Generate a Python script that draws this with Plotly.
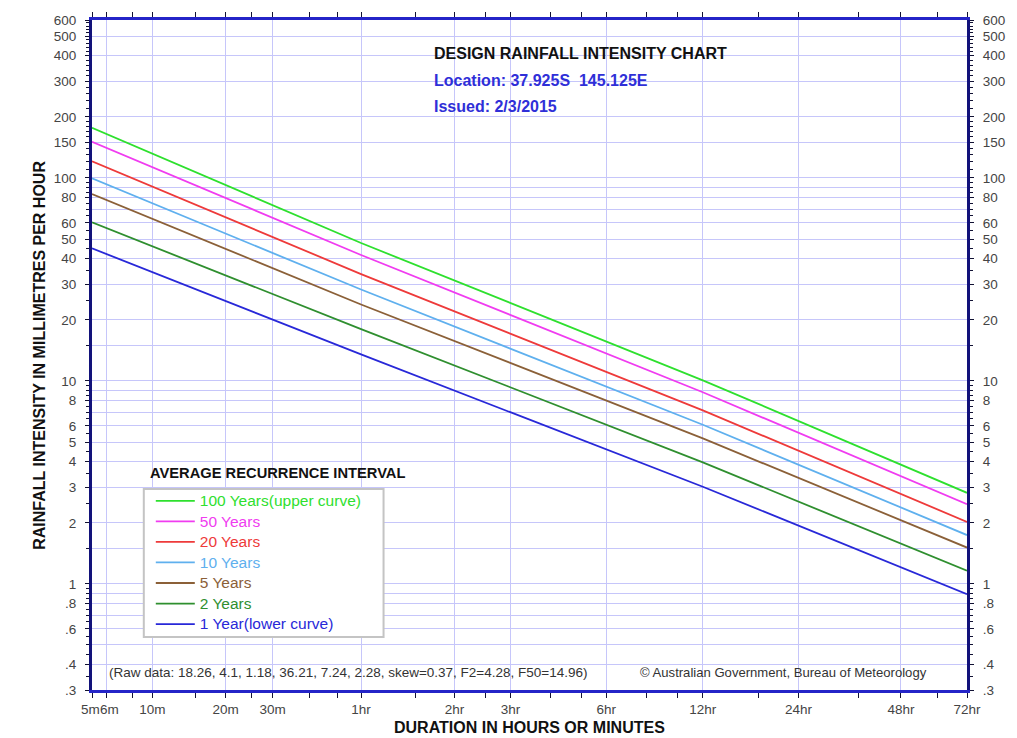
import numpy as np
import plotly.graph_objects as go

# ---------------- data ----------------
duration_labels = ["5m", "6m", "10m", "20m", "30m", "1hr", "2hr", "3hr", "6hr", "12hr", "24hr", "48hr", "72hr"]
duration_minutes = [5, 6, 10, 20, 30, 60, 120, 180, 360, 720, 1440, 2880, 4320]
minor_minutes = [8, 15, 25, 40, 50, 90, 150, 240, 300, 480, 600, 1080, 2160, 3600]

series_minutes = [5, 60, 720, 4320]

ari_names = ["100 Years(upper curve)", "50 Years", "20 Years", "10 Years", "5 Years", "2 Years", "1 Year(lower curve)"]
i_100yr = [176.6, 47.8, 10.07, 2.81]
i_50yr = [150.7, 41.7, 8.79, 2.47]
i_20yr = [120.7, 33.6, 7.16, 2.02]
i_10yr = [99.5, 28.2, 6.08, 1.74]
i_5yr = [83.3, 23.8, 5.21, 1.51]
i_2yr = [60.4, 18.0, 3.97, 1.16]
i_1yr = [45.0, 13.5, 3.01, 0.89]
series_values = [i_100yr, i_50yr, i_20yr, i_10yr, i_5yr, i_2yr, i_1yr]

y_labels = {0.3: ".3", 0.4: ".4", 0.6: ".6", 0.8: ".8", 1: "1", 2: "2", 3: "3", 4: "4", 5: "5", 6: "6", 8: "8",
            10: "10", 20: "20", 30: "30", 40: "40", 50: "50", 60: "60", 80: "80", 100: "100", 150: "150",
            200: "200", 300: "300", 400: "400", 500: "500", 600: "600"}
y_grid_only = [0.5, 0.7, 0.9, 1.5, 7, 9, 15, 70, 90]

raw_text = "(Raw data: 18.26, 4.1, 1.18, 36.21, 7.24, 2.28, skew=0.37, F2=4.28, F50=14.96)"

# ---------------- styles / scale ----------------
colors = ["#2ee02e", "#f03cf0", "#ee3a3a", "#5fb0ee", "#8b6038", "#2f8f2f", "#2828d8"]
# relative position of each labelled duration along the (non-uniform) duration axis
axis_scale = [0.0, 0.0162, 0.0691, 0.1528, 0.2064, 0.3075, 0.4144, 0.4784, 0.5876, 0.6981, 0.8075, 0.9245, 1.0]


def xpos(minutes):
    return np.interp(np.log(np.asarray(minutes, float)), np.log(duration_minutes), axis_scale)


FONT = "Liberation Sans, Arial, sans-serif"
GRID = "#c6c6fa"
AXBLUE = "#2424c8"
AXNAVY = "#12127a"
TICKFONT = dict(family=FONT, size=13.5, color="#444444")
# the two crowded first labels are drawn beside their ticks instead of centred on them
crowded = {"5m": "right", "6m": "left"}

fig = go.Figure()
for name, vals, col in zip(ari_names, series_values, colors):
    fig.add_trace(go.Scatter(
        x=xpos(series_minutes), y=vals, mode="lines",
        name=f"<span style='color:{col};font-size:15.5px'>{name}</span>",
        line=dict(color=col, width=1.8), hoverinfo="skip"))

# helper trace that carries the mirrored (top / right) axes
fig.add_trace(go.Scatter(x=xpos(series_minutes), y=i_100yr, xaxis="x2", yaxis="y2", mode="lines",
                         line=dict(color="rgba(0,0,0,0)", width=0), showlegend=False, hoverinfo="skip"))

y_tickvals = sorted(list(y_labels.keys()) + y_grid_only)
y_ticktext = [y_labels.get(v, "") for v in y_tickvals]
y_minor = sorted(set(
    [round(v, 3) for v in np.arange(0.3, 1.0, 0.05)] +
    [round(v, 3) for v in np.arange(1.0, 10.0, 0.5)] +
    [round(v, 3) for v in np.arange(10, 100, 5)] +
    [round(v, 3) for v in np.arange(100, 200, 10)] +
    [round(v, 3) for v in np.arange(200, 600, 20)]))
yrange = [np.log10(0.3), np.log10(600)]

yaxis_common = dict(
    type="log", range=yrange, tickmode="array", tickvals=y_tickvals, ticktext=y_ticktext,
    ticks="outside", ticklen=4, tickwidth=1, tickcolor="#111133", ticklabelstandoff=6,
    minor=dict(tickmode="array", tickvals=y_minor, ticks="outside", ticklen=3, tickcolor="#111133", showgrid=False),
    showline=True, linecolor=AXNAVY, linewidth=3, zeroline=False,
    tickfont=TICKFONT, fixedrange=True)

x_ticktext = ["" if t in crowded else t for t in duration_labels]
x_minor = list(xpos(minor_minutes))
xaxis_common = dict(
    range=[0, 1], tickmode="array", tickvals=list(xpos(duration_minutes)), ticktext=x_ticktext,
    tickangle=0, ticks="outside", ticklen=5, tickwidth=1, tickcolor="#111133",
    minor=dict(tickmode="array", tickvals=x_minor, ticks="outside", ticklen=5, tickcolor="#111133", showgrid=False),
    showline=True, linecolor=AXBLUE, linewidth=3, zeroline=False,
    tickfont=TICKFONT, fixedrange=True)

fig.update_layout(
    width=1017, height=738,
    margin=dict(l=92, r=42, t=20, b=48),
    paper_bgcolor="white", plot_bgcolor="white",
    font=dict(family=FONT, size=13, color="#333333"),
    xaxis=dict(**xaxis_common, showgrid=True, gridcolor=GRID, gridwidth=1),
    xaxis2=dict(**xaxis_common, overlaying="x", side="top", showgrid=False, showticklabels=False),
    yaxis=dict(**yaxis_common, showgrid=True, gridcolor=GRID, gridwidth=1),
    yaxis2=dict(**yaxis_common, overlaying="y", side="right", showgrid=False),
    showlegend=True,
    legend=dict(x=0.0672, y=0.3052, xanchor="left", yanchor="top", bgcolor="rgba(0,0,0,0)",
                borderwidth=0, font=dict(family=FONT, size=13.5),
                itemwidth=39, tracegroupgap=0, itemclick=False, itemdoubleclick=False),
)

# crowded tick labels beside their ticks
for lab, side in crowded.items():
    m = duration_minutes[duration_labels.index(lab)]
    fig.add_annotation(text=lab, x=float(xpos(m)), xref="x", y=0, yref="paper",
                       xanchor=side, yanchor="middle", yshift=-19,
                       xshift=(9 if side == "right" else -7), showarrow=False, borderpad=0, font=TICKFONT)

# legend frame
fig.add_shape(type="rect", xref="paper", yref="paper", x0=0.0592, x1=0.3332, y0=0.0791, y1=0.30,
              line=dict(color="#c4c4c4", width=2), fillcolor="white", layer="above")

ann = [
    dict(text="<b>DESIGN RAINFALL INTENSITY CHART</b>", x=0.3887, y=0.9507, color="#111111", size=16),
    dict(text="<b>Location: 37.925S  145.125E</b>", x=0.3887, y=0.9104, color="#2f2fd8", size=16),
    dict(text="<b>Issued: 2/3/2015</b>", x=0.3887, y=0.8716, color="#2f2fd8", size=16),
    dict(text="<b>AVERAGE RECURRENCE INTERVAL</b>", x=0.0638, y=0.3239, color="#111111", size=14.7),
    dict(text=raw_text, x=0.0173, y=0.0254, color="#333333", size=13.5),
    dict(text="© Australian Government, Bureau of Meteorology", x=0.624, y=0.0254, color="#333333", size=13.1),
]
for a in ann:
    fig.add_annotation(text=a["text"], x=a["x"], y=a["y"], xref="paper", yref="paper",
                       xanchor="left", yanchor="middle", showarrow=False,
                       font=dict(family=FONT, size=a["size"], color=a["color"]))

fig.add_annotation(text="<b>RAINFALL INTENSITY IN MILLIMETRES PER HOUR</b>", x=-0.0608, y=0.5,
                   xref="paper", yref="paper", textangle=-90, showarrow=False,
                   xanchor="center", yanchor="middle", font=dict(family=FONT, size=16, color="#111111"))
fig.add_annotation(text="<b>DURATION IN HOURS OR MINUTES</b>", x=0.5, y=-0.0567,
                   xref="paper", yref="paper", showarrow=False,
                   xanchor="center", yanchor="middle", font=dict(family=FONT, size=16, color="#111111"))

fig.write_html("out.html", config={"displayModeBar": False},
               post_script="document.body.style.margin='0';document.body.style.overflow='hidden';")
